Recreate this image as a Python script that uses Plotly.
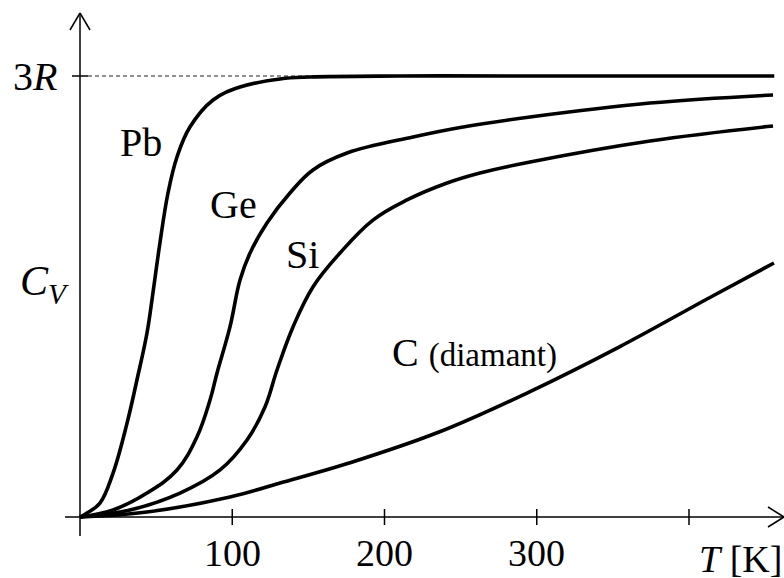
import plotly.graph_objects as go

# ---------------- data (T in K, C_V in units of R) ----------------
pb_T = [0, 4.6, 13.1, 21.7, 30.9, 37.4, 44.0, 47.9, 52.5, 57.8, 63.7, 72.2, 87.4, 105.1, 131.4, 151.1, 210, 300, 456]
pb_C = [0, 0.027, 0.095, 0.299, 0.639, 0.932, 1.252, 1.524, 1.864, 2.204, 2.449, 2.653, 2.837, 2.925, 2.980, 2.993, 3.0, 3.0, 3.0]

ge_T = [0, 21.7, 44.0, 63.7, 76.8, 85.4, 90.0, 98.5, 105.1, 111.7, 122.8, 137.9, 153.0, 175.4, 218.7, 251.6, 295.6, 374.4, 455.2]
ge_C = [0, 0.048, 0.163, 0.320, 0.544, 0.796, 0.980, 1.293, 1.612, 1.796, 2.0, 2.204, 2.361, 2.476, 2.585, 2.653, 2.721, 2.816, 2.871]

si_T = [0, 32.8, 65.7, 92.0, 109.7, 121.5, 129.4, 139.9, 153.0, 170.8, 192.4, 214.8, 241.1, 262.7, 295.6, 374.4, 455.2]
si_C = [0, 0.048, 0.163, 0.320, 0.524, 0.748, 1.0, 1.293, 1.565, 1.796, 2.020, 2.157, 2.272, 2.340, 2.415, 2.558, 2.660]

c_T = [0, 44.0, 98.5, 131.4, 176.7, 235.8, 294.9, 354.0, 413.1, 455.8]
c_C = [0, 0.034, 0.136, 0.231, 0.367, 0.578, 0.850, 1.156, 1.490, 1.728]

x_ticks = [100, 200, 300, 400]
x_tick_labels = ["100", "200", "300", ""]
y_level = 3.0
y_level_label = "3<i>R</i>"

# ---------------- geometry ----------------
W, H = 784, 578
X0_PX, Y0_PX = 80, 517          # origin in pixels
PX_PER_K = 1.5225
PX_PER_R = 147.0
x_range = [-X0_PX / PX_PER_K, (W - X0_PX) / PX_PER_K]
y_range = [-(H - Y0_PX) / PX_PER_R, Y0_PX / PX_PER_R]

def dx(px):   # pixel offset -> data units (x)
    return px / PX_PER_K

def dy(px):   # pixel offset -> data units (y)
    return px / PX_PER_R

fig = go.Figure()

FONT = "Liberation Serif, Times New Roman, serif"
LW = 3.6

for T, C in [(pb_T, pb_C), (ge_T, ge_C), (si_T, si_C), (c_T, c_C)]:
    fig.add_trace(go.Scatter(x=T, y=C, mode="lines",
                             line=dict(color="black", width=LW, shape="spline", smoothing=1.1),
                             hoverinfo="skip", showlegend=False))

shapes = []
axis_line = dict(color="black", width=1.5)
# dashed 3R level
shapes.append(dict(type="line", xref="x", yref="y", x0=dx(8), x1=x_range[1] - dx(10),
                   y0=y_level, y1=y_level, line=dict(color="#222", width=1.2, dash="4px,3px"), layer="below"))
# x axis
shapes.append(dict(type="line", xref="x", yref="y", x0=-dx(15), x1=x_range[1], y0=0, y1=0, line=axis_line))
shapes.append(dict(type="line", xref="x", yref="y", x0=x_range[1], x1=x_range[1] - dx(16), y0=0, y1=dy(10), line=axis_line))
shapes.append(dict(type="line", xref="x", yref="y", x0=x_range[1], x1=x_range[1] - dx(16), y0=0, y1=-dy(10), line=axis_line))
# y axis
y_top = y_range[1] - dy(13)
shapes.append(dict(type="line", xref="x", yref="y", x0=0, x1=0, y0=-dy(19), y1=y_top, line=axis_line))
shapes.append(dict(type="line", xref="x", yref="y", x0=0, x1=-dx(10), y0=y_top, y1=y_top - dy(17), line=axis_line))
shapes.append(dict(type="line", xref="x", yref="y", x0=0, x1=dx(10), y0=y_top, y1=y_top - dy(17), line=axis_line))
# ticks
for t in x_ticks:
    shapes.append(dict(type="line", xref="x", yref="y", x0=t, x1=t, y0=-dy(8), y1=dy(8), line=axis_line))
shapes.append(dict(type="line", xref="x", yref="y", x0=-dx(8), x1=dx(8), y0=y_level, y1=y_level, line=axis_line))

annotations = []
def label(x, y, text, size, xanchor="center"):
    annotations.append(dict(x=x, y=y, xref="x", yref="y", text=text, showarrow=False,
                            xanchor=xanchor, yanchor="middle",
                            font=dict(family=FONT, size=size, color="black")))

for t, lab in zip(x_ticks, x_tick_labels):
    if lab:
        label(t, -dy(36), lab, 38)
label(-dx(45), y_level, y_level_label, 40)
label(x_range[1] - dx(44), -dy(42), "<i>T</i> [K]", 38)
label(-dx(36), dy(517 - 284), "<i>C</i><sub><i>V</i></sub>", 42)
label(dx(141 - 80), dy(517 - 142), "Pb", 40)
label(dx(233 - 80), dy(517 - 204), "Ge", 40)
label(dx(302 - 80), dy(517 - 254), "Si", 40)
label(dx(474 - 80), dy(517 - 352), "C <span style='font-size:33px'>(diamant)</span>", 40)

fig.update_layout(
    width=W, height=H,
    margin=dict(l=0, r=0, t=0, b=0),
    paper_bgcolor="white", plot_bgcolor="white",
    xaxis=dict(range=x_range, visible=False, fixedrange=True),
    yaxis=dict(range=y_range, visible=False, fixedrange=True),
    shapes=shapes, annotations=annotations, showlegend=False,
)

fig.write_html("out.html", config={"displayModeBar": False},
               post_script="document.body.style.margin='0';document.body.style.overflow='hidden';")
